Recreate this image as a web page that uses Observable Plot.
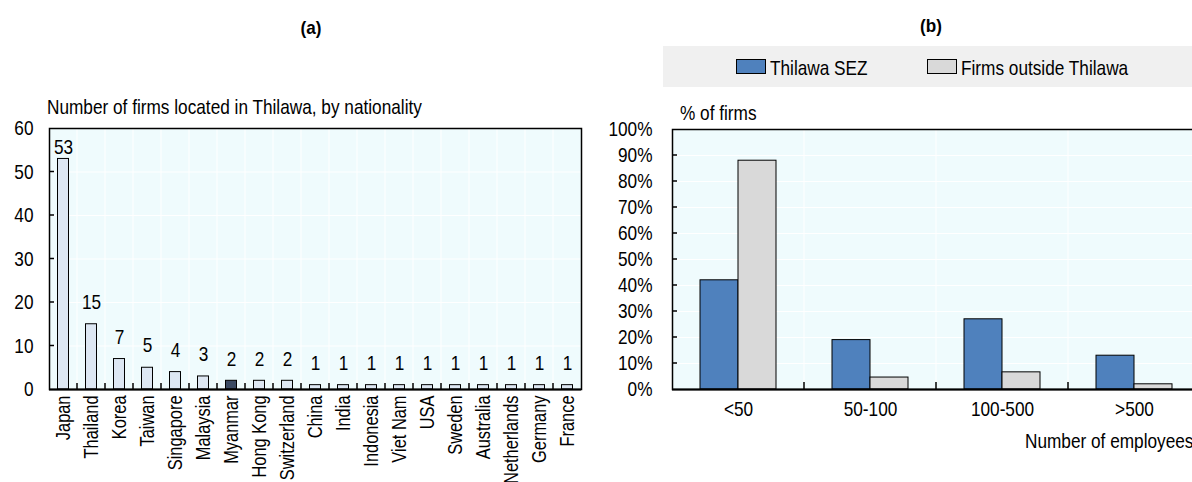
<!DOCTYPE html>
<html><head><meta charset="utf-8">
<script src="https://cdn.jsdelivr.net/npm/d3@7"></script>
<script src="https://cdn.jsdelivr.net/npm/@observablehq/plot@0.6"></script>
<style>
body{margin:0;background:#fff;}
#root{position:relative;width:1192px;height:482px;overflow:hidden;font-family:"Liberation Sans Narrow","Arial Narrow","Liberation Sans",Arial,sans-serif;color:#000;}
.abs{position:absolute;white-space:nowrap;line-height:1;}
.ttl{font-weight:bold;font-size:19px;transform:translate(-50%,-50%) scaleX(0.9);}
.lab{font-size:21px;transform-origin:0 50%;transform:translateY(-50%) scaleX(0.82);}
#legend{left:663px;top:46px;width:560px;height:41px;background:#f0f0f0;}
.sw{position:absolute;width:30px;height:15px;border:1px solid #000;box-sizing:border-box;top:13px;}
.lt{position:absolute;top:21px;font-size:21px;transform-origin:0 50%;transform:translateY(-50%) scaleX(0.82);}
svg text{font-family:"Liberation Sans Narrow","Arial Narrow","Liberation Sans",Arial,sans-serif;}
</style></head><body><div id="root"></div>
<script>
// Panel (a)
const countries = ["Japan","Thailand","Korea","Taiwan","Singapore","Malaysia","Myanmar","Hong Kong","Switzerland","China","India","Indonesia","Viet Nam","USA","Sweden","Australia","Netherlands","Germany","France"];
const firmCounts = [53,15,7,5,4,3,2,2,2,1,1,1,1,1,1,1,1,1,1];
const countTicks = [0,10,20,30,40,50,60];
// Panel (b)
const sizeClasses = ["<50","50-100","100-500",">500"];
const seriesNames = ["Thilawa SEZ","Firms outside Thilawa"];
const thilawaShares = [42,19,27,13];
const outsideShares = [88,4.6,6.6,2];
const shareTicks = [0,10,20,30,40,50,60,70,80,90,100];

const FONT = '"Liberation Sans Narrow","Arial Narrow","Liberation Sans",Arial,sans-serif';
const BG = "#effbfd";
const NARROW = 0.82;

// custom mark: white vertical grid at band boundaries
function bandBoundaries(cats) {
  return (index, scales, values, dims) => {
    const x = scales.x;
    const g = d3.create("svg:g");
    const top = dims.marginTop, bottom = dims.height - dims.marginBottom;
    for (const c of cats.slice(1)) {
      const bx = x(c);
      g.append("line").attr("x1", bx).attr("x2", bx).attr("y1", top).attr("y2", bottom)
        .attr("stroke", "#fff").attr("stroke-width", 1);
    }
    return g.node();
  };
}
// custom mark: inward ticks at band boundaries
function bandTicks(cats, tickLen) {
  return (index, scales, values, dims) => {
    const x = scales.x;
    const g = d3.create("svg:g");
    const bottom = dims.height - dims.marginBottom;
    for (const c of cats.slice(1)) {
      const bx = x(c);
      g.append("line").attr("x1", bx).attr("x2", bx).attr("y1", bottom).attr("y2", bottom - tickLen)
        .attr("stroke", "#000").attr("stroke-width", 1.5);
    }
    return g.node();
  };
}
// custom mark: inward y ticks
function yInnerTicks(ticks, tickLen) {
  return (index, scales, values, dims) => {
    const y = scales.y;
    const g = d3.create("svg:g");
    const left = dims.marginLeft;
    for (const t of ticks) {
      g.append("line").attr("x1", left).attr("x2", left + tickLen).attr("y1", y(t)).attr("y2", y(t))
        .attr("stroke", "#000").attr("stroke-width", 1.5);
    }
    return g.node();
  };
}
// emulate a narrow typeface: compress each text along its own direction (after it is in the page)
function narrowTexts(svg, k) {
  svg.querySelectorAll("text").forEach(t => {
    const L = t.getComputedTextLength();
    if (L > 0) {
      t.setAttribute("textLength", (L * k).toFixed(2));
      t.setAttribute("lengthAdjust", "spacingAndGlyphs");
    }
  });
}

const root = document.getElementById("root");
function addDiv(cls, text, style) {
  const d = document.createElement("div");
  d.className = "abs " + cls;
  d.textContent = text;
  Object.assign(d.style, style);
  root.appendChild(d);
  return d;
}

// ---------- Panel (a)
const firms = countries.map((c, i) => ({country: c, count: firmCounts[i]}));
const aWidth = 600, aML = 49, aMR = 19;
const aStep = (aWidth - aML - aMR) / countries.length;
const barW = 11;
const chartA = Plot.plot({
  width: aWidth, height: 482,
  marginLeft: aML, marginRight: aMR, marginTop: 128, marginBottom: 93,
  style: {fontFamily: FONT, fontSize: "21px", color: "#000", background: "transparent", overflow: "visible"},
  x: {domain: countries, padding: 0, label: null},
  y: {domain: [0, 60], label: null},
  marks: [
    Plot.frame({fill: BG, stroke: null}),
    Plot.gridY(countTicks, {stroke: "#fff", strokeOpacity: 1, strokeWidth: 1}),
    bandBoundaries(countries),
    Plot.barY(firms, {x: "country", y: "count",
      fill: d => d.country === "Myanmar" ? "#3b4a63" : "#dde7f3",
      stroke: "#000", strokeWidth: 1,
      insetLeft: (aStep - barW) / 2, insetRight: (aStep - barW) / 2}),
    Plot.text(firms.filter(d => d.count < 50), {x: "country", y: "count", text: d => String(d.count), dy: -22, fontSize: 21}),
    Plot.text(firms.filter(d => d.count >= 50), {x: "country", y: "count", text: d => String(d.count), dy: -12, fontSize: 21}),
    bandTicks(countries, 6),
    yInnerTicks(countTicks.slice(1, -1), 5),
    Plot.frame({stroke: "#000", strokeWidth: 1.5}),
    Plot.ruleY([0], {stroke: "#000", strokeWidth: 2}),
    Plot.axisY(countTicks, {tickSize: 0, tickPadding: 16, fontSize: 21, label: null}),
    Plot.axisX({tickSize: 0, tickPadding: 6, tickRotate: -90, fontSize: 20, label: null})
  ]
});
chartA.style.position = "absolute";
chartA.style.left = "0px";
chartA.style.top = "0px";
root.appendChild(chartA);
narrowTexts(chartA, NARROW);

// ---------- Panel (b)
const shares = [];
sizeClasses.forEach((s, i) => {
  shares.push({size: s, series: seriesNames[0], value: thilawaShares[i]});
  shares.push({size: s, series: seriesNames[1], value: outsideShares[i]});
});
const bLeft = 590, bWidth = 620, bML = 82, bMR = 10;
const bStep = (bWidth - bML - bMR) / sizeClasses.length;
const pairW = 38;
const colorB = {[seriesNames[0]]: "#4f81bd", [seriesNames[1]]: "#d9d9d9"};
const chartB = Plot.plot({
  width: bWidth, height: 482,
  marginLeft: bML, marginRight: bMR, marginTop: 129, marginBottom: 93,
  style: {fontFamily: FONT, fontSize: "21px", color: "#000", background: "transparent", overflow: "visible"},
  x: {domain: sizeClasses, padding: 0, label: null},
  y: {domain: [0, 100], label: null},
  marks: [
    Plot.frame({fill: BG, stroke: null}),
    Plot.gridY(shareTicks, {stroke: "#fff", strokeOpacity: 1, strokeWidth: 1}),
    bandBoundaries(sizeClasses),
    Plot.barY(shares.filter(d => d.series === seriesNames[0]), {x: "size", y: "value", fill: colorB[seriesNames[0]],
      stroke: "#000", strokeWidth: 1, insetLeft: bStep / 2 - pairW, insetRight: bStep / 2}),
    Plot.barY(shares.filter(d => d.series === seriesNames[1]), {x: "size", y: "value", fill: colorB[seriesNames[1]],
      stroke: "#000", strokeWidth: 1, insetLeft: bStep / 2, insetRight: bStep / 2 - pairW}),
    bandTicks(sizeClasses, 7),
    yInnerTicks(shareTicks.slice(1, -1), 5),
    Plot.frame({stroke: "#000", strokeWidth: 1.5}),
    Plot.ruleY([0], {stroke: "#000", strokeWidth: 2}),
    Plot.axisY(shareTicks, {tickSize: 0, tickPadding: 20, fontSize: 21, tickFormat: d => d + "%", label: null}),
    Plot.axisX({tickSize: 0, tickPadding: 12, fontSize: 21, label: null})
  ]
});
chartB.style.position = "absolute";
chartB.style.left = bLeft + "px";
chartB.style.top = "0px";
root.appendChild(chartB);
narrowTexts(chartB, NARROW);

// ---------- texts & legend
addDiv("ttl", "(a)", {left: "311px", top: "27px"});
addDiv("ttl", "(b)", {left: "931px", top: "25px"});
addDiv("lab", "Number of firms located in Thilawa, by nationality", {left: "47px", top: "106px"});
addDiv("lab", "% of firms", {left: "680px", top: "112px"});
addDiv("lab", "Number of employees", {left: "1025px", top: "440px"});

const legend = document.createElement("div");
legend.className = "abs";
legend.id = "legend";
root.appendChild(legend);
const items = [{name: seriesNames[0], sw: 736, tx: 770}, {name: seriesNames[1], sw: 927, tx: 961}];
for (const it of items) {
  const sw = document.createElement("div");
  sw.className = "sw";
  sw.style.left = (it.sw - 663) + "px";
  sw.style.background = colorB[it.name];
  legend.appendChild(sw);
  const t = document.createElement("div");
  t.className = "lt";
  t.style.left = (it.tx - 663) + "px";
  t.textContent = it.name;
  legend.appendChild(t);
}
</script>
</body></html>
